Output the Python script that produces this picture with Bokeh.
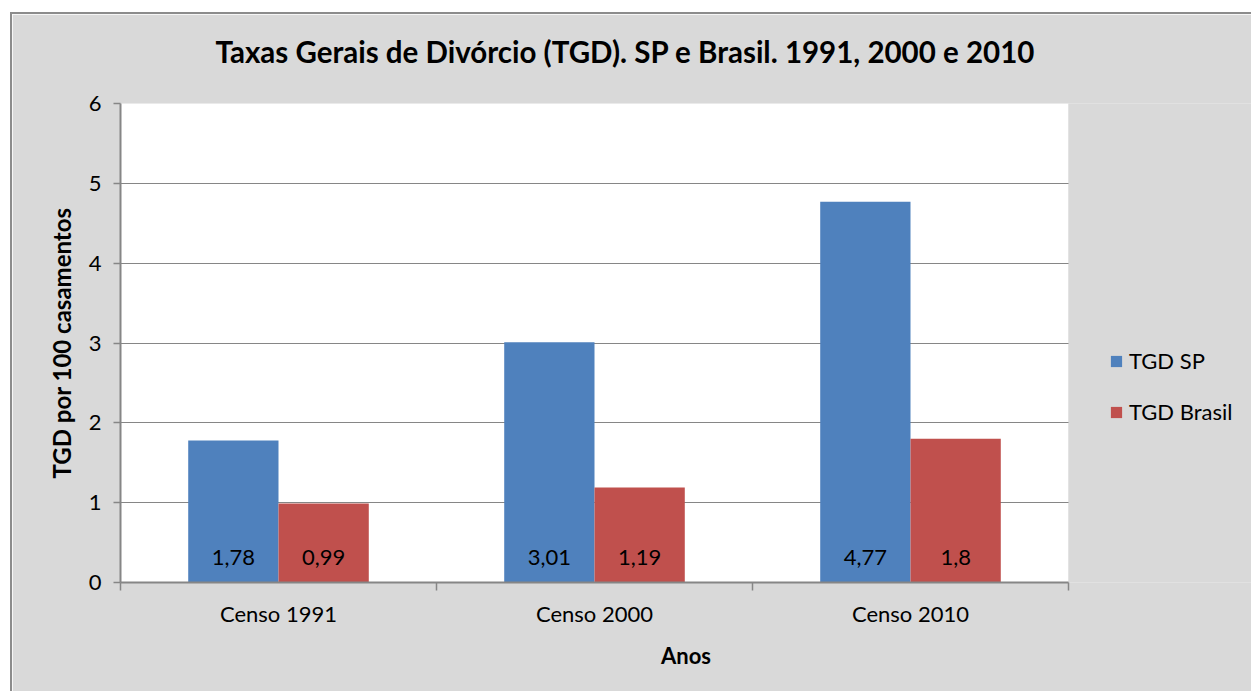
from bokeh.plotting import figure
from bokeh.models import (ColumnDataSource, FixedTicker, Legend, LegendItem, LabelSet,
                          BoxAnnotation, Title)
from bokeh.core.properties import value
from bokeh.embed import file_html
from bokeh.resources import INLINE

categories = ["Censo 1991", "Censo 2000", "Censo 2010"]
series_names = ["TGD SP", "TGD Brasil"]
tgd_sp = [1.78, 3.01, 4.77]
tgd_brasil = [0.99, 1.19, 1.8]
y_ticks = [0, 1, 2, 3, 4, 5, 6]
title_text = "Taxas Gerais de Divórcio (TGD). SP e Brasil. 1991, 2000 e 2010"

colors = ["#4f81bd", "#c0504d"]
FONT = "Lato"
GRAY = "#868686"
BG = "#d9d9d9"

n_cat = len(categories)
bar_w = 1 / 3.5
plot_px = 948          # width of the white plotting area in pixels
frame_w = 1131         # frame extends right to hold the legend
x_end = n_cat * frame_w / plot_px

p = figure(frame_width=frame_w, frame_height=479, output_backend="svg", toolbar_location=None,
           x_range=(0, x_end), y_range=(0, 6),
           min_border_left=108, min_border_right=0, min_border_top=89, min_border_bottom=109,
           margin=(12, 0, 0, 10))
p.styles = {"border-left": "2px solid #8c8c8c", "border-top": "2px solid #8c8c8c"}
p.border_fill_color = BG
p.background_fill_color = BG
p.outline_line_color = None

# white plotting area limited to the category span
p.add_layout(BoxAnnotation(left=0, right=n_cat, fill_color="white", fill_alpha=1,
                           line_color=None, level="image"))

# real title (outer) and a blank spacer title next to the frame
p.title.text = title_text
p.title.text_font = FONT
p.title.text_font_size = "29.5px"
p.title.text_font_style = "bold"
p.title.text_color = "black"
p.title.align = "left"
p.title.offset = 95
p.title.standoff = 0
p.add_layout(Title(text=" ", text_font_size="10px", standoff=22), "above")

renderers = []
for si, (name, vals) in enumerate([(series_names[0], tgd_sp), (series_names[1], tgd_brasil)]):
    xs = [i + 0.5 + (si - 0.5) * bar_w for i in range(n_cat)]
    labels = [f"{v:g}".replace(".", ",") for v in vals]
    src = ColumnDataSource(dict(x=xs, top=vals, label=labels, base=[0] * len(vals)))
    r = p.vbar(x="x", top="top", width=bar_w, source=src, fill_color=colors[si], line_color=None)
    renderers.append((name, r))
    ls = LabelSet(x="x", y="base", text="label", source=src, text_align="center",
                  text_baseline="middle", y_offset=25, text_font=value(FONT),
                  text_font_size="22px", text_color="black")
    p.add_layout(ls)

# x axis
xt = FixedTicker(ticks=[i + 0.5 for i in range(n_cat)],
                 minor_ticks=list(range(n_cat + 1)))
p.xaxis.ticker = xt
p.xaxis.bounds = (0, n_cat)
p.xaxis.major_label_overrides = {i + 0.5: c for i, c in enumerate(categories)}
p.xaxis.major_tick_out = 0
p.xaxis.major_tick_in = 0
p.xaxis.minor_tick_out = 8
p.xaxis.minor_tick_in = 0
p.xaxis.minor_tick_line_color = GRAY
p.xaxis.minor_tick_line_width = 1.5
p.xaxis.axis_line_color = GRAY
p.xaxis.axis_line_width = 2
p.xaxis.major_label_text_font = FONT
p.xaxis.major_label_text_font_size = "22px"
p.xaxis.major_label_text_color = "black"
p.xaxis.major_label_standoff = 9
p.xaxis.axis_label = "Anos"
p.xaxis.axis_label_text_font = FONT
p.xaxis.axis_label_text_font_size = "22px"
p.xaxis.axis_label_text_font_style = "bold"
p.xaxis.axis_label_text_color = "black"
p.xaxis.axis_label_standoff = 12
p.xgrid.visible = False

# y axis
p.yaxis.ticker = FixedTicker(ticks=y_ticks)
p.yaxis.minor_tick_line_color = None
p.yaxis.major_tick_out = 7
p.yaxis.major_tick_in = 0
p.yaxis.major_tick_line_color = GRAY
p.yaxis.major_tick_line_width = 1.5
p.yaxis.axis_line_color = GRAY
p.yaxis.axis_line_width = 2
p.yaxis.major_label_text_font = FONT
p.yaxis.major_label_text_font_size = "22px"
p.yaxis.major_label_text_color = "black"
p.yaxis.major_label_standoff = 12
p.yaxis.axis_label = "TGD por 100 casamentos"
p.yaxis.axis_label_text_font = FONT
p.yaxis.axis_label_text_font_size = "24px"
p.yaxis.axis_label_text_font_style = "bold"
p.yaxis.axis_label_text_color = "black"
p.yaxis.axis_label_standoff = 10
p.ygrid.grid_line_color = GRAY
p.ygrid.grid_line_width = 1.2

# hide grid lines outside the plotting area (legend zone)
p.add_layout(BoxAnnotation(left=n_cat, fill_color=BG, fill_alpha=1,
                           line_color=None, level="underlay"))

legend = Legend(items=[LegendItem(label=n, renderers=[r]) for n, r in renderers],
                location=(989, 157), orientation="vertical",
                glyph_width=14, glyph_height=14, label_height=24, spacing=24,
                label_standoff=6, padding=0, margin=0,
                label_text_font=FONT, label_text_font_size="22px",
                label_text_color="black",
                background_fill_alpha=0, border_line_color=None)
p.add_layout(legend)

open("out.html", "w").write(file_html(p, INLINE))
